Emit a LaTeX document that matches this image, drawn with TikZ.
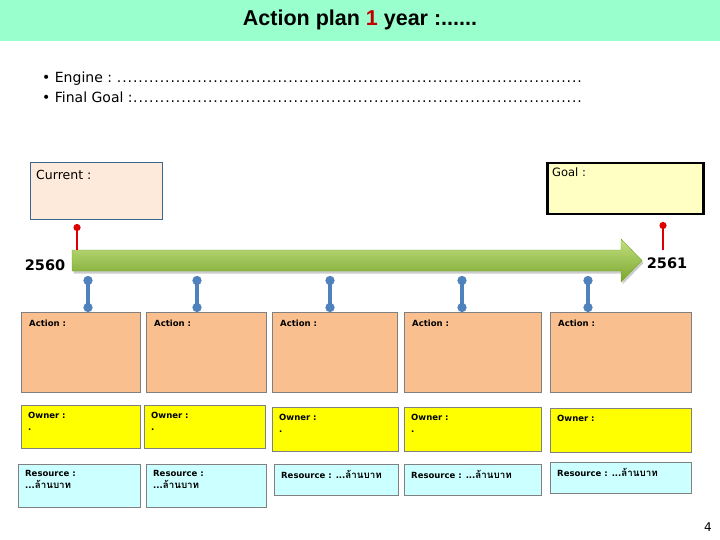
\documentclass[tikz,border=0pt]{standalone}
\usepackage{fontspec}
\setmainfont{DejaVu Sans}
\newfontfamily\titlefont{Liberation Sans}
\newfontfamily\thaifont[Script=Thai,Scale=1.15]{Loma}
\usetikzlibrary{arrows.meta,shadows}

\definecolor{hdrmint}{RGB}{153,255,204}
\definecolor{titlered}{RGB}{192,0,0}
\definecolor{curfill}{RGB}{253,234,218}
\definecolor{curdraw}{RGB}{60,100,145}
\definecolor{goalfill}{RGB}{255,255,196}
\definecolor{actfill}{RGB}{250,191,143}
\definecolor{ownfill}{RGB}{255,255,0}
\definecolor{resfill}{RGB}{204,255,255}
\definecolor{boxgray}{RGB}{128,128,128}
\definecolor{pinblue}{RGB}{79,129,189}
\definecolor{pinred}{RGB}{220,0,0}
\definecolor{tlgreen}{RGB}{146,192,66}
\definecolor{tldark}{RGB}{120,165,45}
\definecolor{tllight}{RGB}{196,224,128}

\newcommand{\boxfont}{\fontsize{8.5}{12}\selectfont\bfseries}
\newcommand{\baht}{{\thaifont ล้านบาท}}
\newcommand{\dotrun}{\xleaders\hbox to 5.3pt{\hss.\hss}\hfill}

\begin{document}
\begin{tikzpicture}[x=1pt, y=-1pt,
        hdrband/.style={rectangle, fill=hdrmint, minimum width=720pt, minimum height=41pt, inner sep=0pt},
        bullettxt/.style={anchor=west, inner sep=0pt, font=\fontsize{14}{17}\selectfont},
        curbox/.style={rectangle, anchor=north west, draw=curdraw, fill=curfill, line width=1pt, inner sep=0pt},
        goalbox/.style={rectangle, anchor=north west, draw=black, fill=goalfill, line width=2.5pt, inner sep=0pt},
        actbox/.style={rectangle, anchor=north west, draw=boxgray, fill=actfill, line width=1pt, minimum height=80pt, inner sep=0pt},
        ownbox/.style={rectangle, anchor=north west, draw=boxgray, fill=ownfill, line width=1pt, inner sep=0pt},
        resbox/.style={rectangle, anchor=north west, draw=boxgray, fill=resfill, line width=1pt, inner sep=0pt},
        boxtxt/.style={anchor=north west, inner sep=0pt, align=left, font=\boxfont},
        yrtxt/.style={inner sep=0pt, font=\fontsize{14.5}{16}\selectfont\bfseries},
        redpin/.style={draw=pinred, line width=2.5pt, {Circle[length=7pt]}-},
        bluepin/.style={draw=pinblue, line width=3.5pt, {Circle[length=9pt]}-{Circle[length=9pt]}}
    ]
    \useasboundingbox (0,0) rectangle (720,540);

    % header
    \node[hdrband] (hdr) at (360,20.5) {};
    \node[font=\titlefont\bfseries\fontsize{21.5}{24}\selectfont] (ttl) at (360,20) {Action plan \textcolor{titlered}{1} year :......};

    % engine / final goal
    \node[bullettxt] (eng) at (42,79) {\hbox to 540pt{• Engine :\ \dotrun}};
    \node[bullettxt] (fgoal) at (42,97) {\hbox to 540pt{• Final Goal :\dotrun}};

    % current / goal
    \node[curbox, minimum width=132pt, minimum height=57pt] (cur) at (30,162) {};
    \node[anchor=north west, inner sep=0pt, font=\fontsize{12.5}{14}\selectfont] (curtxt) at ([shift={(6,8)}]cur.north west) {Current :};
    \node[goalbox, minimum width=156pt, minimum height=51pt] (goal) at (546,162) {};
    \node[anchor=north west, inner sep=0pt, font=\fontsize{11.5}{13}\selectfont] (goaltxt) at ([shift={(6,6)}]goal.north west) {Goal :};

    % timeline arrow
    \coordinate (tltop) at (72,250);
    \coordinate (tlbot) at (72,271);
    \coordinate (tltip) at (642,260.5);
    \path[top color=tllight, middle color=tlgreen, bottom color=tldark, draw=tldark, line width=0.4pt,
          drop shadow={shadow xshift=1.5pt, shadow yshift=-2.5pt, opacity=.4}]
        (tltop) -- (621,250) -- (621,239) -- (tltip) -- (621,282) -- (621,271) -- (tlbot) -- cycle;
    \node[yrtxt] (y2560) at (45,265) {2560};
    \node[yrtxt] (y2561) at (667,263) {2561};

    % red pins
    \coordinate (cpin) at (77,224);
    \coordinate (gpin) at (663,222);
    \draw[redpin] (cpin) -- (cpin |- tltop);
    \draw[redpin] (gpin) -- (gpin |- tltop);

    % action boxes
    \node[actbox, minimum width=119pt] (act1) at (21,312) {};
    \node[actbox, minimum width=120pt] (act2) at (146,312) {};
    \node[actbox, minimum width=125pt] (act3) at (272,312) {};
    \node[actbox, minimum width=137pt] (act4) at (404,312) {};
    \node[actbox, minimum width=141pt] (act5) at (550,312) {};

    % owner boxes
    \node[ownbox, minimum width=119pt, minimum height=43pt] (own1) at (21,405) {};
    \node[ownbox, minimum width=121pt, minimum height=43pt] (own2) at (144,405) {};
    \node[ownbox, minimum width=126pt, minimum height=44pt] (own3) at (272,407) {};
    \node[ownbox, minimum width=137pt, minimum height=44pt] (own4) at (404,407) {};
    \node[ownbox, minimum width=141pt, minimum height=44pt] (own5) at (550,408) {};

    % resource boxes
    \node[resbox, minimum width=122pt, minimum height=43pt] (res1) at (18,464) {};
    \node[resbox, minimum width=120pt, minimum height=43pt] (res2) at (146,464) {};
    \node[resbox, minimum width=124pt, minimum height=31pt] (res3) at (274,464) {};
    \node[resbox, minimum width=137pt, minimum height=31pt] (res4) at (404,464) {};
    \node[resbox, minimum width=141pt, minimum height=31pt] (res5) at (550,462) {};

    % texts in the boxes
    \foreach \i in {1,...,5} {
        \node[boxtxt] (acttxt\i) at ([shift={(8,7.5)}]act\i.north west) {Action :};
    }
    \node[boxtxt] (owntxt1) at ([shift={(7,6.5)}]own1.north west) {Owner :\\.};
    \node[boxtxt] (owntxt2) at ([shift={(7,6.5)}]own2.north west) {Owner :\\.};
    \node[boxtxt] (owntxt3) at ([shift={(7,6.5)}]own3.north west) {Owner :\\.};
    \node[boxtxt] (owntxt4) at ([shift={(7,6.5)}]own4.north west) {Owner :\\.};
    \node[boxtxt] (owntxt5) at ([shift={(7,6.5)}]own5.north west) {Owner :};
    \node[boxtxt] (restxt1) at ([shift={(7,6)}]res1.north west) {Resource :\\...\baht};
    \node[boxtxt] (restxt2) at ([shift={(7,6)}]res2.north west) {Resource :\\...\baht};
    \node[boxtxt] (restxt3) at ([shift={(7,6)}]res3.north west) {Resource : ...\baht};
    \node[boxtxt] (restxt4) at ([shift={(7,6)}]res4.north west) {Resource : ...\baht};
    \node[boxtxt] (restxt5) at ([shift={(7,6)}]res5.north west) {Resource : ...\baht};

    % blue pins
    \foreach \x/\b in {88/act1, 197/act2, 330/act3, 462/act4, 588/act5} {
        \coordinate (bp\b) at (\x,276);
        \draw[bluepin] (bp\b) -- (bp\b |- \b.north);
    }

    % page number
    \node[font=\fontsize{12}{14}\selectfont] (pgno) at (708,527) {4};
\end{tikzpicture}
\end{document}
